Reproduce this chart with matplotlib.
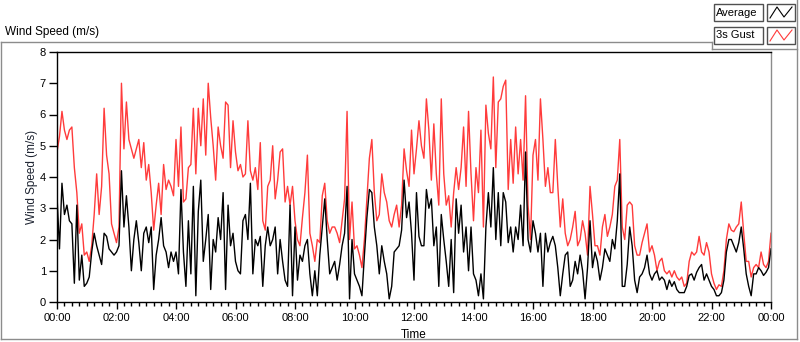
import matplotlib
matplotlib.use('Agg')
import matplotlib.pyplot as plt
from matplotlib.patches import Rectangle
from matplotlib.lines import Line2D
from matplotlib.ticker import MultipleLocator, FixedLocator
import numpy as np

# 5-minute samples, 00:00 -> 24:00 (one row per hour)
gust = [
    4.8, 5.3, 6.1, 5.5, 5.2, 5.5, 5.6, 4.3, 3.5, 2.2, 2.5, 1.5,
    1.6, 1.3, 1.8, 2.8, 4.1, 2.8, 3.7, 6.2, 4.7, 4.1, 2.5, 2.2,
    1.9, 2.4, 7.0, 4.9, 6.4, 5.2, 4.9, 4.6, 4.9, 5.2, 4.3, 5.1,
    3.9, 4.4, 3.5, 2.3, 3.1, 3.8, 2.8, 4.4, 3.6, 3.9, 3.7, 3.4,
    5.2, 3.7, 5.6, 3.2, 3.3, 4.3, 4.4, 6.2, 4.1, 6.2, 5.0, 6.5,
    4.7, 7.0, 5.9, 5.0, 3.9, 5.6, 5.0, 4.6, 6.4, 6.3, 4.3, 5.8,
    4.8, 4.2, 4.4, 4.0, 4.1, 5.8, 4.2, 3.9, 4.3, 3.6, 5.1, 2.6,
    2.3, 3.7, 3.9, 5.0, 3.3, 3.9, 4.8, 4.9, 3.2, 3.7, 3.1, 3.7,
    2.6, 2.0, 1.8, 2.7, 3.5, 4.7, 2.2, 1.8, 1.3, 2.0, 1.9, 3.4,
    3.8, 2.6, 2.2, 2.4, 2.4, 2.2, 1.9, 2.6, 3.3, 6.1, 2.0, 3.2,
    1.7, 1.8, 1.5, 1.1, 2.0, 3.3, 4.6, 5.2, 3.5, 2.6, 2.8, 4.1,
    3.5, 3.2, 2.6, 2.4, 2.8, 3.1, 2.4, 3.1, 4.9, 4.2, 3.7, 5.5,
    4.1, 4.9, 5.8, 5.0, 4.6, 6.5, 5.5, 3.9, 5.7, 4.1, 3.1, 6.5,
    4.1, 3.1, 3.4, 2.4, 3.5, 4.3, 3.6, 4.3, 5.6, 3.7, 6.1, 4.1,
    2.6, 4.3, 3.5, 5.5, 2.4, 6.3, 5.4, 4.9, 7.2, 4.3, 6.4, 6.5,
    6.9, 7.1, 3.6, 5.2, 3.8, 5.6, 4.1, 5.2, 3.9, 6.6, 3.1, 2.0,
    4.7, 5.2, 3.9, 6.5, 5.2, 3.7, 4.3, 3.5, 3.5, 5.2, 3.7, 2.4,
    3.3, 2.2, 1.8, 2.0, 2.4, 2.9, 1.8, 2.0, 2.6, 2.2, 1.5, 3.7,
    2.8, 1.8, 1.8, 1.5, 2.4, 2.8, 2.1, 2.4, 2.8, 3.7, 3.9, 5.2,
    2.4, 2.0, 3.1, 3.2, 3.1, 1.8, 1.5, 1.5, 1.9, 2.2, 2.5, 1.6,
    1.8, 1.5, 1.0, 1.3, 1.4, 1.0, 0.9, 1.0, 0.8, 1.0, 0.8, 0.7,
    0.8, 0.5, 0.6, 1.3, 1.6, 1.5, 1.6, 2.1, 1.6, 1.5, 1.9, 1.6,
    0.9, 0.6, 0.4, 0.55, 0.5, 1.0, 2.0, 2.5, 2.3, 2.25, 2.4, 2.5,
    3.2, 2.2, 1.3, 1.3, 0.8, 1.1, 1.2, 1.1, 1.6, 1.2, 1.1, 1.3,
    2.2,
]

average = [
    3.4, 1.7, 3.8, 2.8, 3.1, 2.6, 2.5, 0.6, 3.1, 0.7, 1.5, 0.5,
    0.6, 0.8, 1.6, 2.2, 1.8, 1.5, 1.2, 2.2, 2.1, 1.7, 1.6, 1.5,
    1.6, 1.8, 4.2, 2.4, 3.4, 2.4, 1.0, 2.0, 2.6, 1.9, 1.0, 2.2,
    2.4, 1.9, 2.4, 0.4, 1.5, 2.0, 2.7, 1.8, 1.6, 1.1, 1.6, 1.3,
    1.6, 0.9, 3.6, 1.6, 0.5, 2.6, 0.9, 3.7, 0.2, 2.9, 3.9, 1.3,
    2.0, 2.8, 0.4, 2.0, 1.6, 2.7, 2.0, 3.5, 0.4, 3.1, 1.8, 2.2,
    1.3, 1.0, 0.9, 2.6, 2.8, 2.0, 3.8, 0.9, 2.0, 1.8, 2.1, 0.5,
    1.8, 2.4, 1.8, 2.0, 2.4, 0.9, 2.0, 1.3, 0.7, 0.5, 3.1, 0.2,
    2.4, 0.7, 1.5, 1.3, 1.8, 2.0, 0.9, 0.2, 1.0, 0.2, 1.5, 2.4,
    3.3, 2.0, 0.9, 1.1, 1.3, 0.7, 1.2, 1.8, 2.2, 3.7, 0.1, 2.0,
    0.9, 0.7, 0.5, 0.2, 1.5, 2.7, 3.6, 3.5, 2.4, 1.8, 0.9, 1.8,
    1.3, 0.9, 0.1, 0.5, 1.6, 1.7, 1.8, 2.3, 3.9, 2.7, 3.2, 2.2,
    0.7, 3.5, 2.1, 1.8, 1.8, 3.6, 3.0, 3.3, 1.8, 2.4, 0.5, 2.8,
    2.0, 1.3, 0.5, 2.0, 0.3, 3.3, 2.2, 3.1, 1.6, 2.4, 1.0, 2.4,
    0.9, 0.7, 0.2, 0.9, 0.1, 2.4, 3.5, 2.4, 4.3, 2.0, 3.5, 1.8,
    3.5, 3.2, 1.9, 2.4, 1.6, 2.4, 2.0, 3.1, 1.8, 4.8, 2.0, 1.6,
    2.6, 2.2, 1.6, 2.2, 0.5, 2.2, 1.6, 1.9, 2.1, 1.8, 1.1, 0.2,
    0.9, 1.5, 1.6, 0.5, 0.7, 1.3, 0.9, 1.5, 1.0, 0.1, 1.1, 2.6,
    1.1, 1.6, 1.3, 0.7, 1.1, 1.7, 1.5, 1.3, 2.0, 1.7, 2.6, 4.1,
    0.5, 0.5, 1.2, 2.4, 1.8, 0.7, 0.3, 0.8, 0.9, 1.1, 1.5, 0.9,
    0.7, 0.9, 1.0, 0.7, 0.8, 0.7, 0.4, 0.7, 0.5, 0.65, 0.4, 0.3,
    0.3, 0.3, 0.5, 0.85, 0.9, 0.7, 0.95, 1.1, 1.2, 0.7, 0.9, 0.7,
    0.5, 0.4, 0.2, 0.2, 0.3, 0.7, 1.6, 2.0, 2.0, 1.8, 1.6, 1.9,
    2.4, 1.7, 0.9, 0.5, 0.2, 0.9, 0.9, 1.1, 1.0, 0.85, 0.95, 1.1,
    1.7,
]

tick_labels = ["00:00", "02:00", "04:00", "06:00", "08:00", "10:00", "12:00",
               "14:00", "16:00", "18:00", "20:00", "22:00", "00:00"]
legend_names = ["Average", "3s Gust"]

FONT = "Liberation Sans"
plt.rcParams['font.family'] = [FONT, 'DejaVu Sans']

W, H = 800, 342
RED = '#ff3b3b'
GRAY = '#8c8c8c'


def fx(x):
    return x / W


def fy(y):
    return 1 - y / H


fig = plt.figure(figsize=(W / 100, H / 100), dpi=100)
fig.patch.set_facecolor('white')

# plot area in pixel coords: x 57..771, y 52..302
ax = fig.add_axes([fx(57), fy(302), (771 - 57) / W, (302 - 52) / H])

hours = np.arange(len(average)) * 5 / 60.0
ax.plot(hours, gust, color=RED, linewidth=1.0)
ax.plot(hours, average, color='black', linewidth=1.0)

ax.set_xlim(0, 24)
ax.set_ylim(0, 8)
ax.xaxis.set_major_locator(FixedLocator(np.arange(0, 25, 2)))
ax.set_xticklabels(tick_labels)
ax.xaxis.set_minor_locator(MultipleLocator(0.25))
ax.yaxis.set_major_locator(MultipleLocator(1))

ax.tick_params(axis='x', which='major', length=5, width=1, pad=3,
               labelsize=8, colors='black')
ax.tick_params(axis='x', which='minor', length=3, width=1)
ax.tick_params(axis='y', which='major', length=6, width=1, pad=2,
               labelsize=8)

ax.set_xlabel('Time', fontsize=8.5, labelpad=4)
ax.set_ylabel('Wind Speed (m/s)', fontsize=8.5, labelpad=1, color='#1c2230')

for side in ['left', 'top', 'bottom']:
    ax.spines[side].set_color('black')
    ax.spines[side].set_linewidth(1)
ax.spines['right'].set_color(GRAY)
ax.spines['right'].set_linewidth(1)

# outer frame
frame = [
    ((1, 42), (712, 42)),
    ((712, 42), (712, 49)),
    ((712, 49), (797, 49)),
    ((797, 0), (797, 339)),
    ((1, 42), (1, 339)),
    ((1, 339), (797, 339)),
]
for (x0, y0), (x1, y1) in frame:
    fig.add_artist(Line2D([fx(x0), fx(x1)], [fy(y0), fy(y1)],
                          transform=fig.transFigure, color=GRAY, linewidth=1))

fig.text(fx(5), fy(32), 'Wind Speed (m/s)', fontsize=8.5, va='center', ha='left')

# legend boxes
for i, (name, col) in enumerate(zip(legend_names, ['black', RED])):
    top = 4 + i * 23
    fig.add_artist(Rectangle((fx(714), fy(top + 17)), 49 / W, 17 / H,
                             transform=fig.transFigure, facecolor='white',
                             edgecolor='#505050', linewidth=1))
    fig.add_artist(Rectangle((fx(767), fy(top + 17)), 28 / W, 17 / H,
                             transform=fig.transFigure, facecolor='white',
                             edgecolor='#505050', linewidth=1))
    fig.text(fx(716), fy(top + 8.5), name, fontsize=8, va='center', ha='left')
    gx = [770, 777, 784, 792]
    gy = [top + 14, top + 3, top + 13, top + 3]
    fig.add_artist(Line2D([fx(v) for v in gx], [fy(v) for v in gy],
                          transform=fig.transFigure, color=col, linewidth=0.8))

fig.savefig('out.png', dpi=100, facecolor='white')
